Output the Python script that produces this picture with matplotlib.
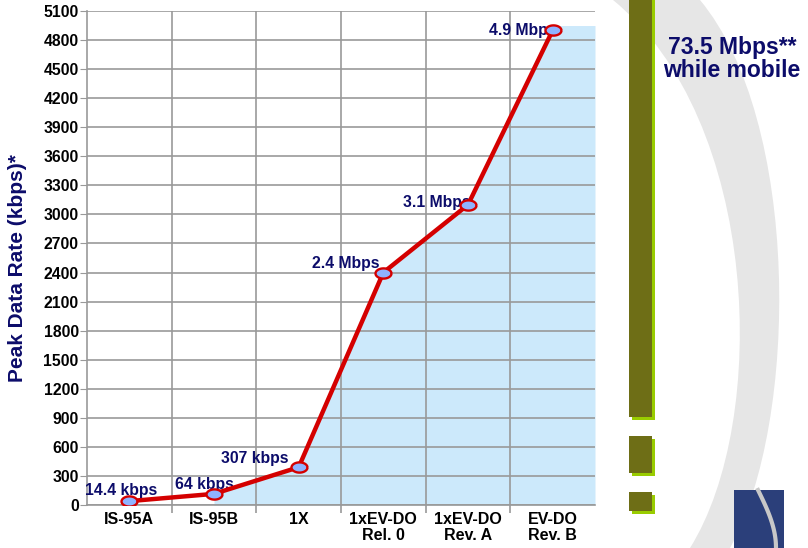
import numpy as np
import matplotlib.pyplot as plt
from matplotlib.path import Path
from matplotlib.patches import PathPatch, Rectangle

plt.rcParams['font.family'] = ['Liberation Sans', 'DejaVu Sans']
plt.rcParams['hatch.color'] = '#c8c8c8'

# data
categories = ['IS-95A', 'IS-95B', '1X', '1xEV-DO\nRel. 0', '1xEV-DO\nRev. A', 'EV-DO\nRev. B']
rates = [40, 115, 390, 2400, 3100, 4900]
rate_labels = ['14.4 kbps', '64 kbps', '307 kbps', '2.4 Mbps', '3.1 Mbps', '4.9 Mbps']
area_x = [1, 2, 3, 4, 5, 5.5]
area_top = [115, 390, 2400, 3100, 4950, 4950]
y_ticks = list(range(0, 5101, 300))
side_note = '73.5 Mbps**\nwhile mobile'

W, H = 808, 548
navy = '#0c0c6a'


def fx(x):
    return x / W


def fy(y):
    return 1 - y / H


fig = plt.figure(figsize=(W / 100, H / 100), dpi=100)

# background crescent on the right
verts = [(613, 0), (760, 120), (770, 420), (690, 548),
         (730, 548),
         (800, 420), (800, 120), (700, 0),
         (613, 0)]
codes = [Path.MOVETO, Path.CURVE4, Path.CURVE4, Path.CURVE4,
         Path.LINETO,
         Path.CURVE4, Path.CURVE4, Path.CURVE4,
         Path.CLOSEPOLY]
crescent = Path([(fx(a), fy(b)) for a, b in verts], codes)
fig.patches.append(PathPatch(crescent, transform=fig.transFigure, facecolor='#e6e6e6',
                             edgecolor='none', hatch='++++', zorder=0))

# olive bars with lime shadow
for (x0, y0, x1, y1) in [(629, -5, 652, 417), (629, 436, 652, 473), (629, 492, 652, 511)]:
    fig.patches.append(Rectangle((fx(x0 + 3), fy(y1 + 3)), (x1 - x0) / W, (y1 - y0) / H,
                                 transform=fig.transFigure, facecolor='#99cc00',
                                 edgecolor='none', zorder=1))
    fig.patches.append(Rectangle((fx(x0), fy(y1)), (x1 - x0) / W, (y1 - y0) / H,
                                 transform=fig.transFigure, facecolor='#6e6e16',
                                 edgecolor='none', zorder=2))

# logo box
fig.patches.append(Rectangle((fx(734), fy(548)), 50 / W, 58 / H, transform=fig.transFigure,
                             facecolor='#2b3f7a', edgecolor='none', zorder=1))
t = np.linspace(0, 1, 30)
arc_x = 758 + 18 * np.sin(t * np.pi / 2)
arc_y = 490 + 58 * t
fig.add_artist(plt.Line2D(fx(arc_x), fy(arc_y), transform=fig.transFigure,
                          color='#c8c8c8', lw=3, zorder=3))

fig.text(fx(732), fy(59), side_note, ha='center', va='center', fontsize=16.5,
         fontweight='bold', color=navy, linespacing=1.05)

# main chart
ax = fig.add_axes([fx(87), fy(505), (595 - 87) / W, (505 - 11) / H])
x = np.arange(len(categories))

ax.fill_between(area_x, area_top, 0, color='#cce9fb', lw=0, zorder=1)

theta = np.linspace(0, 2 * np.pi, 40)
ellipse = Path(np.column_stack([np.cos(theta), 0.64 * np.sin(theta)]))
ax.plot(x, rates, color='#d40000', lw=3.2, zorder=4, solid_capstyle='round')
ax.plot(x, rates, linestyle='none', marker=ellipse, markersize=11.5,
        markerfacecolor='#8fb3ff', markeredgecolor='#d40000', markeredgewidth=1.7, zorder=5)

offsets = [(-6, 8), (-7, 7), (-7, 6.5), (-3, 6.5), (2, 1.5), (3, 0)]
aligns = ['center', 'center', 'right', 'right', 'right', 'right']
for xi, v, lab, off, ha in zip(x, rates, rate_labels, offsets, aligns):
    ax.annotate(lab, (xi, v), xytext=off, textcoords='offset points', ha=ha, va='center',
                fontsize=11.3, fontweight='bold', color=navy, zorder=3)

ax.set_xlim(-0.5, 5.5)
ax.set_ylim(0, 5100)
ax.set_yticks(y_ticks)
ax.set_yticklabels([str(v) for v in y_ticks], fontsize=11.3, fontweight='bold')
ax.set_xticks(x)
ax.set_xticklabels(categories, fontsize=11.5, fontweight='bold', linespacing=1.05)
ax.tick_params(axis='x', length=0, pad=5)
ax.tick_params(axis='y', length=5, color='#999999', pad=1)
ax.set_xticks(np.arange(0.5, 5, 1), minor=True)
ax.tick_params(axis='x', which='minor', length=6, color='#999999', width=1.2)

for v in y_ticks:
    ax.axhline(v, color='#999999', lw=1.2, zorder=2)
for b in np.arange(0.5, 5, 1):
    ax.axvline(b, color='#999999', lw=1.2, zorder=2)

for s in ['top', 'right']:
    ax.spines[s].set_visible(False)
for s in ['left', 'bottom']:
    ax.spines[s].set_color('#999999')
    ax.spines[s].set_linewidth(1.2)
ax.patch.set_alpha(0)

fig.text(fx(18), fy(268), 'Peak Data Rate (kbps)*', rotation=90, ha='center', va='center',
         fontsize=15, fontweight='bold', color=navy)

fig.savefig('out.png', dpi=100)
